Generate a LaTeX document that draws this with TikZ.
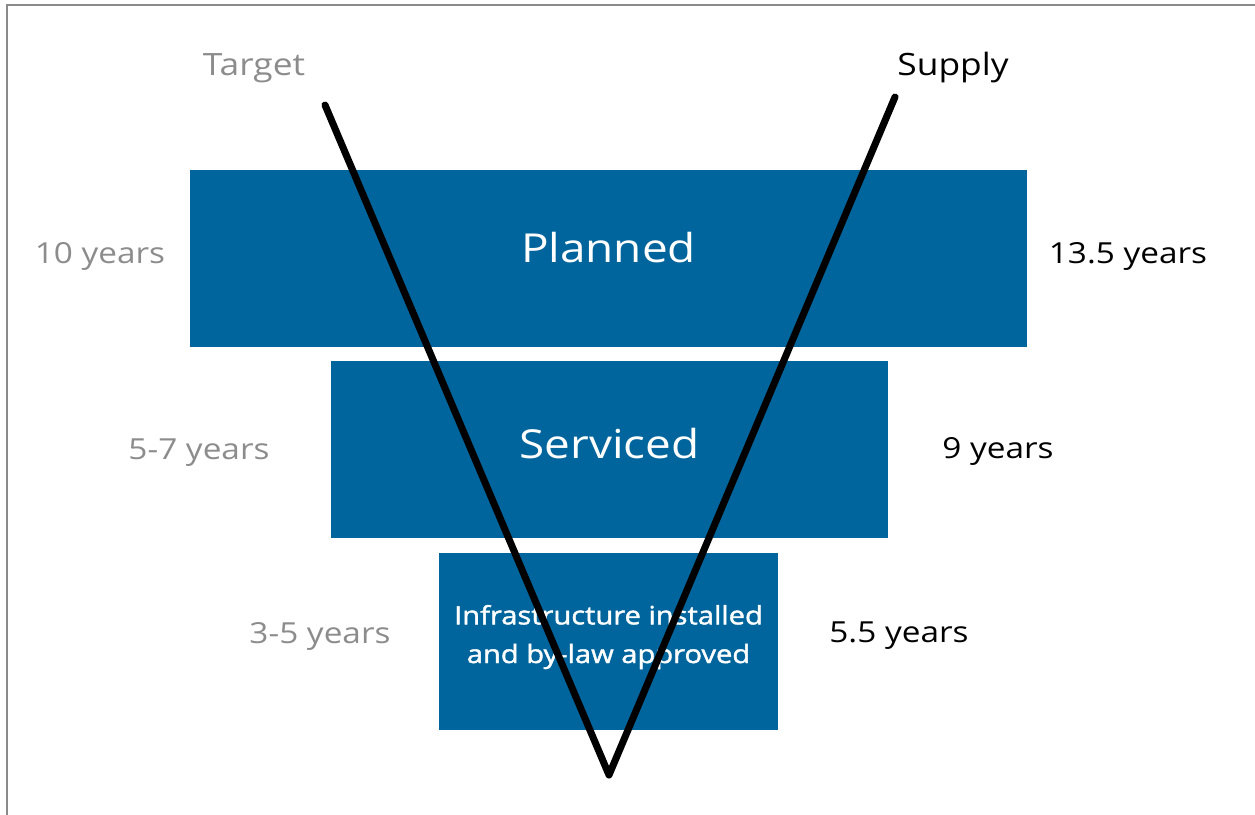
\documentclass[tikz,border=0pt]{standalone}
\usepackage{fontspec}
\setmainfont[FakeStretch=1.15]{Open Sans}
\newfontfamily\semibold[FakeStretch=1.15, FakeBold=1.6]{Open Sans}
\usepackage{xcolor}
\usetikzlibrary{positioning}
\definecolor{stageBlue}{HTML}{00659D}
\definecolor{targetGrey}{HTML}{8C8C8C}
\definecolor{frameGrey}{HTML}{8A8A8A}
\definecolor{ink}{HTML}{000000}

\begin{document}
\begin{tikzpicture}[
  x=0.02cm, y=-0.02cm,
  stage/.style={
    rectangle, fill=stageBlue, draw=none, text=white,
    minimum height=3.54cm, align=center, inner sep=0pt
  },
  stageName/.style={font=\fontsize{22.7}{27}\selectfont},
  stageSmall/.style={font=\semibold\fontsize{14.4}{22}\selectfont},
  years/.style={font=\fontsize{16.5}{20}\selectfont, inner sep=0pt},
  targetYears/.style={years, text=targetGrey},
  supplyYears/.style={years, text=ink},
  head/.style={font=\fontsize{17.5}{21}\selectfont, inner sep=0pt},
  vline/.style={draw=ink, line width=4pt, line join=round, line cap=round}
]
\useasboundingbox (0,0) rectangle (1255,815);

% --- Frame (top and left edges only) ---
\draw[frameGrey, line width=1.2pt] (7,815) -- (7,5) -- (1255,5);

% --- Stage bars ---
\node[stage, stageName, minimum width=16.74cm, text depth=0.44cm] (planned)   at (608.5,258.5) {Planned};
\node[stage, stageName, minimum width=11.14cm, text depth=0.26cm] (serviced)  at (609.5,449.5) {Serviced};
\node[stage, stageSmall, minimum width=6.78cm, text depth=0.3cm]  (installed) at (608.5,641.5) {Infrastructure installed\\and by-law approved};

% --- Target years (left) ---
\node[targetYears] (tPlanned)   at (100,256) {10 years};
\node[targetYears] (tServiced)  at (199,453) {5-7 years};
\node[targetYears] (tInstalled) at (320,636) {3-5 years};

% --- Supply years (right) ---
\node[supplyYears] (sPlanned)   at (1128,256) {13.5 years};
\node[supplyYears] (sServiced)  at (998,451)  {9 years};
\node[supplyYears] (sInstalled) at (899,636)  {5.5 years};

% --- Headings ---
\node[head, text=targetGrey] (target) at (254,68) {Target};
\node[head, text=ink]        (supply) at (953,68) {Supply};

% --- V lines ---
\coordinate (tTop) at (325,105);
\coordinate (sTop) at (895,97);
\coordinate (tip)  at (609,775);
\draw[vline] (tTop) -- (tip) -- (sTop);

\end{tikzpicture}
\end{document}
